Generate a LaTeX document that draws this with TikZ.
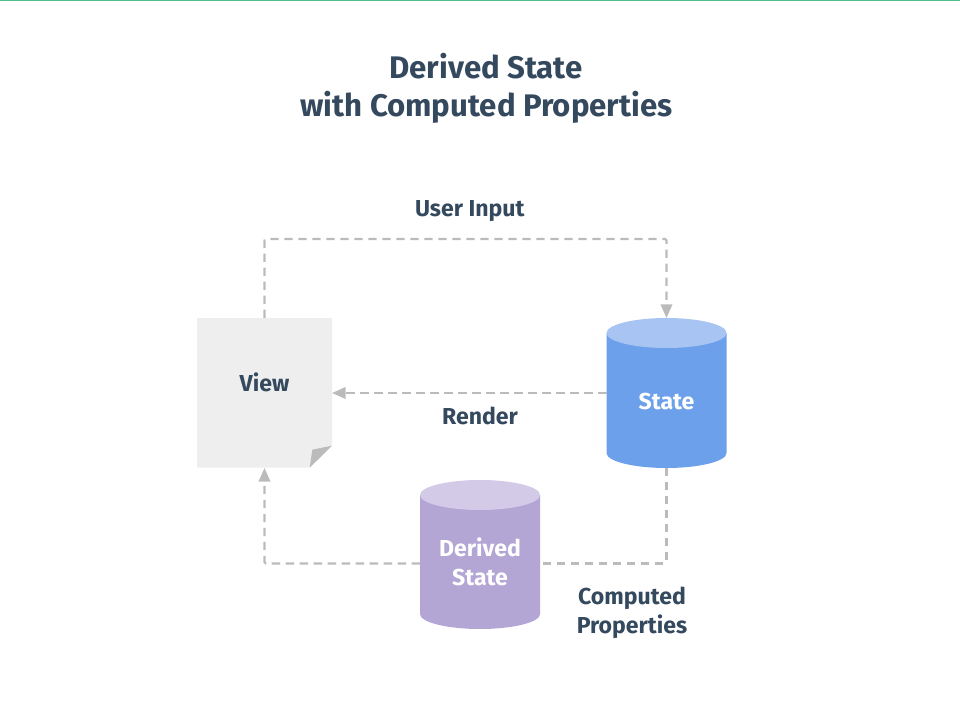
\documentclass[tikz,border=0pt]{standalone}
\usepackage{fontspec}
\setmainfont{Fira Sans}
\usetikzlibrary{arrows.meta}
\definecolor{ink}{HTML}{34495E}
\definecolor{wire}{HTML}{BBBBBB}
\definecolor{blueside}{HTML}{6DA0EB}
\definecolor{bluetop}{HTML}{A8C4F2}
\definecolor{purpleside}{HTML}{B3A5D4}
\definecolor{purpletop}{HTML}{D2CAE6}
\definecolor{paper}{HTML}{EEEEEE}
\definecolor{topline}{HTML}{4FC08D}
\tikzset{
  txt/.style={text=ink,font=\fontsize{17.3}{21.7}\selectfont\bfseries,align=center,inner sep=0pt},
  whitetxt/.style={txt,text=white},
  titletxt/.style={txt,font=\fontsize{23.4}{28.5}\selectfont\bfseries},
  anchorbox/.style={inner sep=0pt,outer sep=0pt,minimum width=120\pxu,minimum height=150\pxu},
  wireline/.style={draw=wire,line width=1.55pt,dash pattern=on 6.2pt off 4.3pt,rounded corners=1pt},
  wirearrow/.style={wireline,-{Triangle[length=10.2pt,width=8.6pt,fill=wire,sep=0pt]}},
}
\newlength{\pxu}\setlength{\pxu}{0.75pt}
\begin{document}
\begin{tikzpicture}[x=0.75pt,y=-0.75pt]
\useasboundingbox (0,0) rectangle (960,720);
\fill[topline] (0,0) rectangle (960,1.5);
% view
\fill[paper] (197,318) -- (332,318) -- (332,445.7) -- (309.7,467.7) -- (197,467.7) -- cycle;
\fill[wire] (309.7,467.7) -- (332,445.7) -- (312.3,449.7) -- cycle;
% state
\fill[blueside] (606.5,333) -- (606.5,453) arc[start angle=180,end angle=0,x radius=60,y radius=15] -- (726.5,333) -- cycle;
\fill[bluetop] (666.5,333) ellipse[x radius=60,y radius=15];
% derived
\fill[purpleside] (420,495) -- (420,614) arc[start angle=180,end angle=0,x radius=60,y radius=15] -- (540,495) -- cycle;
\fill[purpletop] (480,495) ellipse[x radius=60,y radius=15];
% named nodes
\node[anchorbox,minimum width=135\pxu] (view) at (264.5,393) {};
\node[anchorbox] (state) at (666.5,393) {};
\node[anchorbox,minimum height=149\pxu] (derived) at (480,554.5) {};
\coordinate (ua) at (264.5,239);
\coordinate (ub) at (666.5,239);
\coordinate (da) at (264.5,563.5);
\coordinate (db) at (666.5,563.5);
% connectors
\draw[wirearrow] (view.north) -- (ua) -- (ub) -- (state.north);
\draw[wirearrow] (state.west) -- (view.east);
\draw[wireline] (state.south) -- (db) -- ([xshift=2.25pt]derived.east|-db);
\draw[wirearrow] (derived.west|-da) -- (da) -- (view.south);
% text
\node[titletxt,anchor=base] (t1) at (486,79) {Derived State};
\node[titletxt,anchor=base] (t2) at (486.5,117) {with Computed Properties};
\node[txt,anchor=base] (lu) at (469.8,216.5) {User Input};
\node[txt,anchor=base] (lv) at (264.5,391) {View};
\node[txt,anchor=base] (lr) at (480,424) {Render};
\node[whitetxt,anchor=base] (ls) at (666.5,409) {State};
\node[whitetxt,anchor=base] (ld1) at (480,556) {Derived};
\node[whitetxt,anchor=base] (ld2) at (480,585) {State};
\node[txt,anchor=base] (lc1) at (632,604.5) {Computed};
\node[txt,anchor=base] (lc2) at (632,633.5) {Properties};
\end{tikzpicture}
\end{document}
